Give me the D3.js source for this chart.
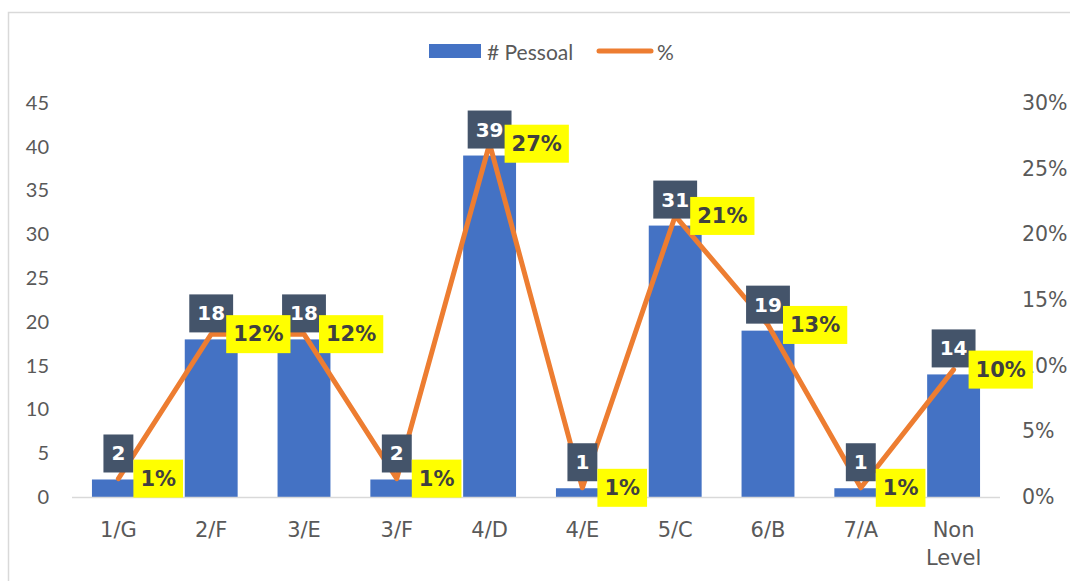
<!DOCTYPE html>
<html>
<head>
<meta charset="utf-8">
<script src="https://cdn.jsdelivr.net/npm/d3@7"></script>
<style>
  html, body { margin: 0; padding: 0; background: #fff; }
  svg { display: block; }
</style>
</head>
<body>
<svg id="chart" width="1070" height="581"></svg>
<script>
// ---- data ----
const categories = ["1/G", "2/F", "3/E", "3/F", "4/D", "4/E", "5/C", "6/B", "7/A", "Non Level"];
const pessoal = [2, 18, 18, 2, 39, 1, 31, 19, 1, 14];
const percent = [1.4, 12.4, 12.4, 1.4, 26.9, 0.7, 21.4, 13.1, 0.7, 9.7];
const percentLabels = ["1%", "12%", "12%", "1%", "27%", "1%", "21%", "13%", "1%", "10%"];
const leftTicks = [0, 5, 10, 15, 20, 25, 30, 35, 40, 45];
const rightTicks = [0, 5, 10, 15, 20, 25, 30];
const seriesNames = ["# Pessoal", "%"];

// ---- styles ----
const barColor = "#4472C4";
const lineColor = "#ED7D31";
const darkBox = "#44546A";
const yellowBox = "#FFFF00";
const axisText = "#595959";
const calibriLike = "Lato, 'Open Sans', sans-serif";
const gothicLike = "'DejaVu Sans', sans-serif";

const svg = d3.select("#chart");

// chart border (extends beyond right/bottom)
svg.append("rect")
  .attr("x", 8.5).attr("y", 12.5).attr("width", 1200).attr("height", 700)
  .attr("fill", "none").attr("stroke", "#d9d9d9").attr("stroke-width", 1.5);

const x = d3.scaleBand().domain(categories).range([72, 1000]).paddingInner(0.43).paddingOuter(0.215);
const yL = d3.scaleLinear().domain([0, 45]).range([497, 103]);
const yR = d3.scaleLinear().domain([0, 30]).range([497, 103]);

// left axis
const leftAxis = d3.axisLeft(yL).tickValues(leftTicks).tickSize(0).tickPadding(0);
const gL = svg.append("g").attr("transform", "translate(49,0)").call(leftAxis);
gL.select(".domain").remove();
gL.selectAll("text").attr("fill", axisText).style("font-family", calibriLike).style("font-size", "20px");

// right axis
const rightAxis = d3.axisRight(yR).tickValues(rightTicks).tickFormat(d => d + "%").tickSize(0).tickPadding(0);
const gR = svg.append("g").attr("transform", "translate(1022,0)").call(rightAxis);
gR.select(".domain").remove();
gR.selectAll("text").attr("fill", axisText).style("font-family", gothicLike).style("font-size", "20.5px");

// bars
svg.append("g").selectAll("rect").data(categories).join("rect")
  .attr("x", d => x(d))
  .attr("y", (d, i) => yL(pessoal[i]))
  .attr("width", x.bandwidth())
  .attr("height", (d, i) => yL(0) - yL(pessoal[i]))
  .attr("fill", barColor);

// x axis
const bottomAxis = d3.axisBottom(x).tickSize(0).tickPadding(0).tickFormat(() => "");
const gB = svg.append("g").attr("transform", "translate(0,497)").call(bottomAxis);
gB.select(".domain").attr("stroke", "#d9d9d9").attr("stroke-width", 1.5).attr("d", "M72,0.5H1000");

const xl = svg.append("g");
categories.forEach(c => {
  const parts = c.split(" ");
  const t = xl.append("text")
    .attr("x", x(c) + x.bandwidth() / 2)
    .attr("y", 537)
    .attr("text-anchor", "middle")
    .attr("fill", axisText)
    .style("font-family", gothicLike)
    .style("font-size", "21px");
  parts.forEach((p, k) => {
    t.append("tspan").attr("x", x(c) + x.bandwidth() / 2).attr("dy", k === 0 ? 0 : 28).text(p);
  });
});

// line
const cx = c => x(c) + x.bandwidth() / 2;
const line = d3.line().x((d, i) => cx(categories[i])).y(d => yR(d));
svg.append("path").datum(percent)
  .attr("d", line)
  .attr("fill", "none")
  .attr("stroke", lineColor)
  .attr("stroke-width", 5)
  .attr("stroke-linejoin", "round")
  .attr("stroke-linecap", "round");

// dark bar labels
const gDL = svg.append("g");
categories.forEach((c, i) => {
  const g = gDL.append("g");
  const t = g.append("text")
    .attr("x", cx(c))
    .attr("y", yL(pessoal[i]) - 7 - 19)
    .attr("text-anchor", "middle")
    .attr("dominant-baseline", "central")
    .attr("fill", "#ffffff")
    .style("font-family", gothicLike)
    .style("font-weight", "bold")
    .style("font-size", "20px")
    .text(pessoal[i]);
  const w = t.node().getComputedTextLength() + 16;
  g.insert("rect", "text")
    .attr("x", cx(c) - w / 2)
    .attr("y", yL(pessoal[i]) - 7 - 38)
    .attr("width", w)
    .attr("height", 38)
    .attr("fill", darkBox);
});

// yellow percent labels
const gYL = svg.append("g");
categories.forEach((c, i) => {
  const g = gYL.append("g");
  const px = cx(c) + 15;
  const py = yR(percent[i]);
  const t = g.append("text")
    .attr("x", px + 7)
    .attr("y", py)
    .attr("dominant-baseline", "central")
    .attr("fill", "#404040")
    .style("font-family", gothicLike)
    .style("font-weight", "bold")
    .style("font-size", "21px")
    .text(percentLabels[i]);
  const w = t.node().getComputedTextLength() + 14;
  g.insert("rect", "text")
    .attr("x", px)
    .attr("y", py - 19)
    .attr("width", w)
    .attr("height", 38)
    .attr("fill", yellowBox);
});

// legend
const lg = svg.append("g");
lg.append("rect").attr("x", 429).attr("y", 44).attr("width", 52).attr("height", 14).attr("fill", barColor);
lg.append("text").attr("x", 487).attr("y", 51).attr("dominant-baseline", "central")
  .attr("fill", axisText).style("font-family", calibriLike).style("font-size", "21px").text(seriesNames[0]);
lg.append("line").attr("x1", 599).attr("x2", 651).attr("y1", 51).attr("y2", 51)
  .attr("stroke", lineColor).attr("stroke-width", 5).attr("stroke-linecap", "round");
lg.append("text").attr("x", 657).attr("y", 51).attr("dominant-baseline", "central")
  .attr("fill", axisText).style("font-family", calibriLike).style("font-size", "21px").text(seriesNames[1]);
</script>
</body>
</html>
